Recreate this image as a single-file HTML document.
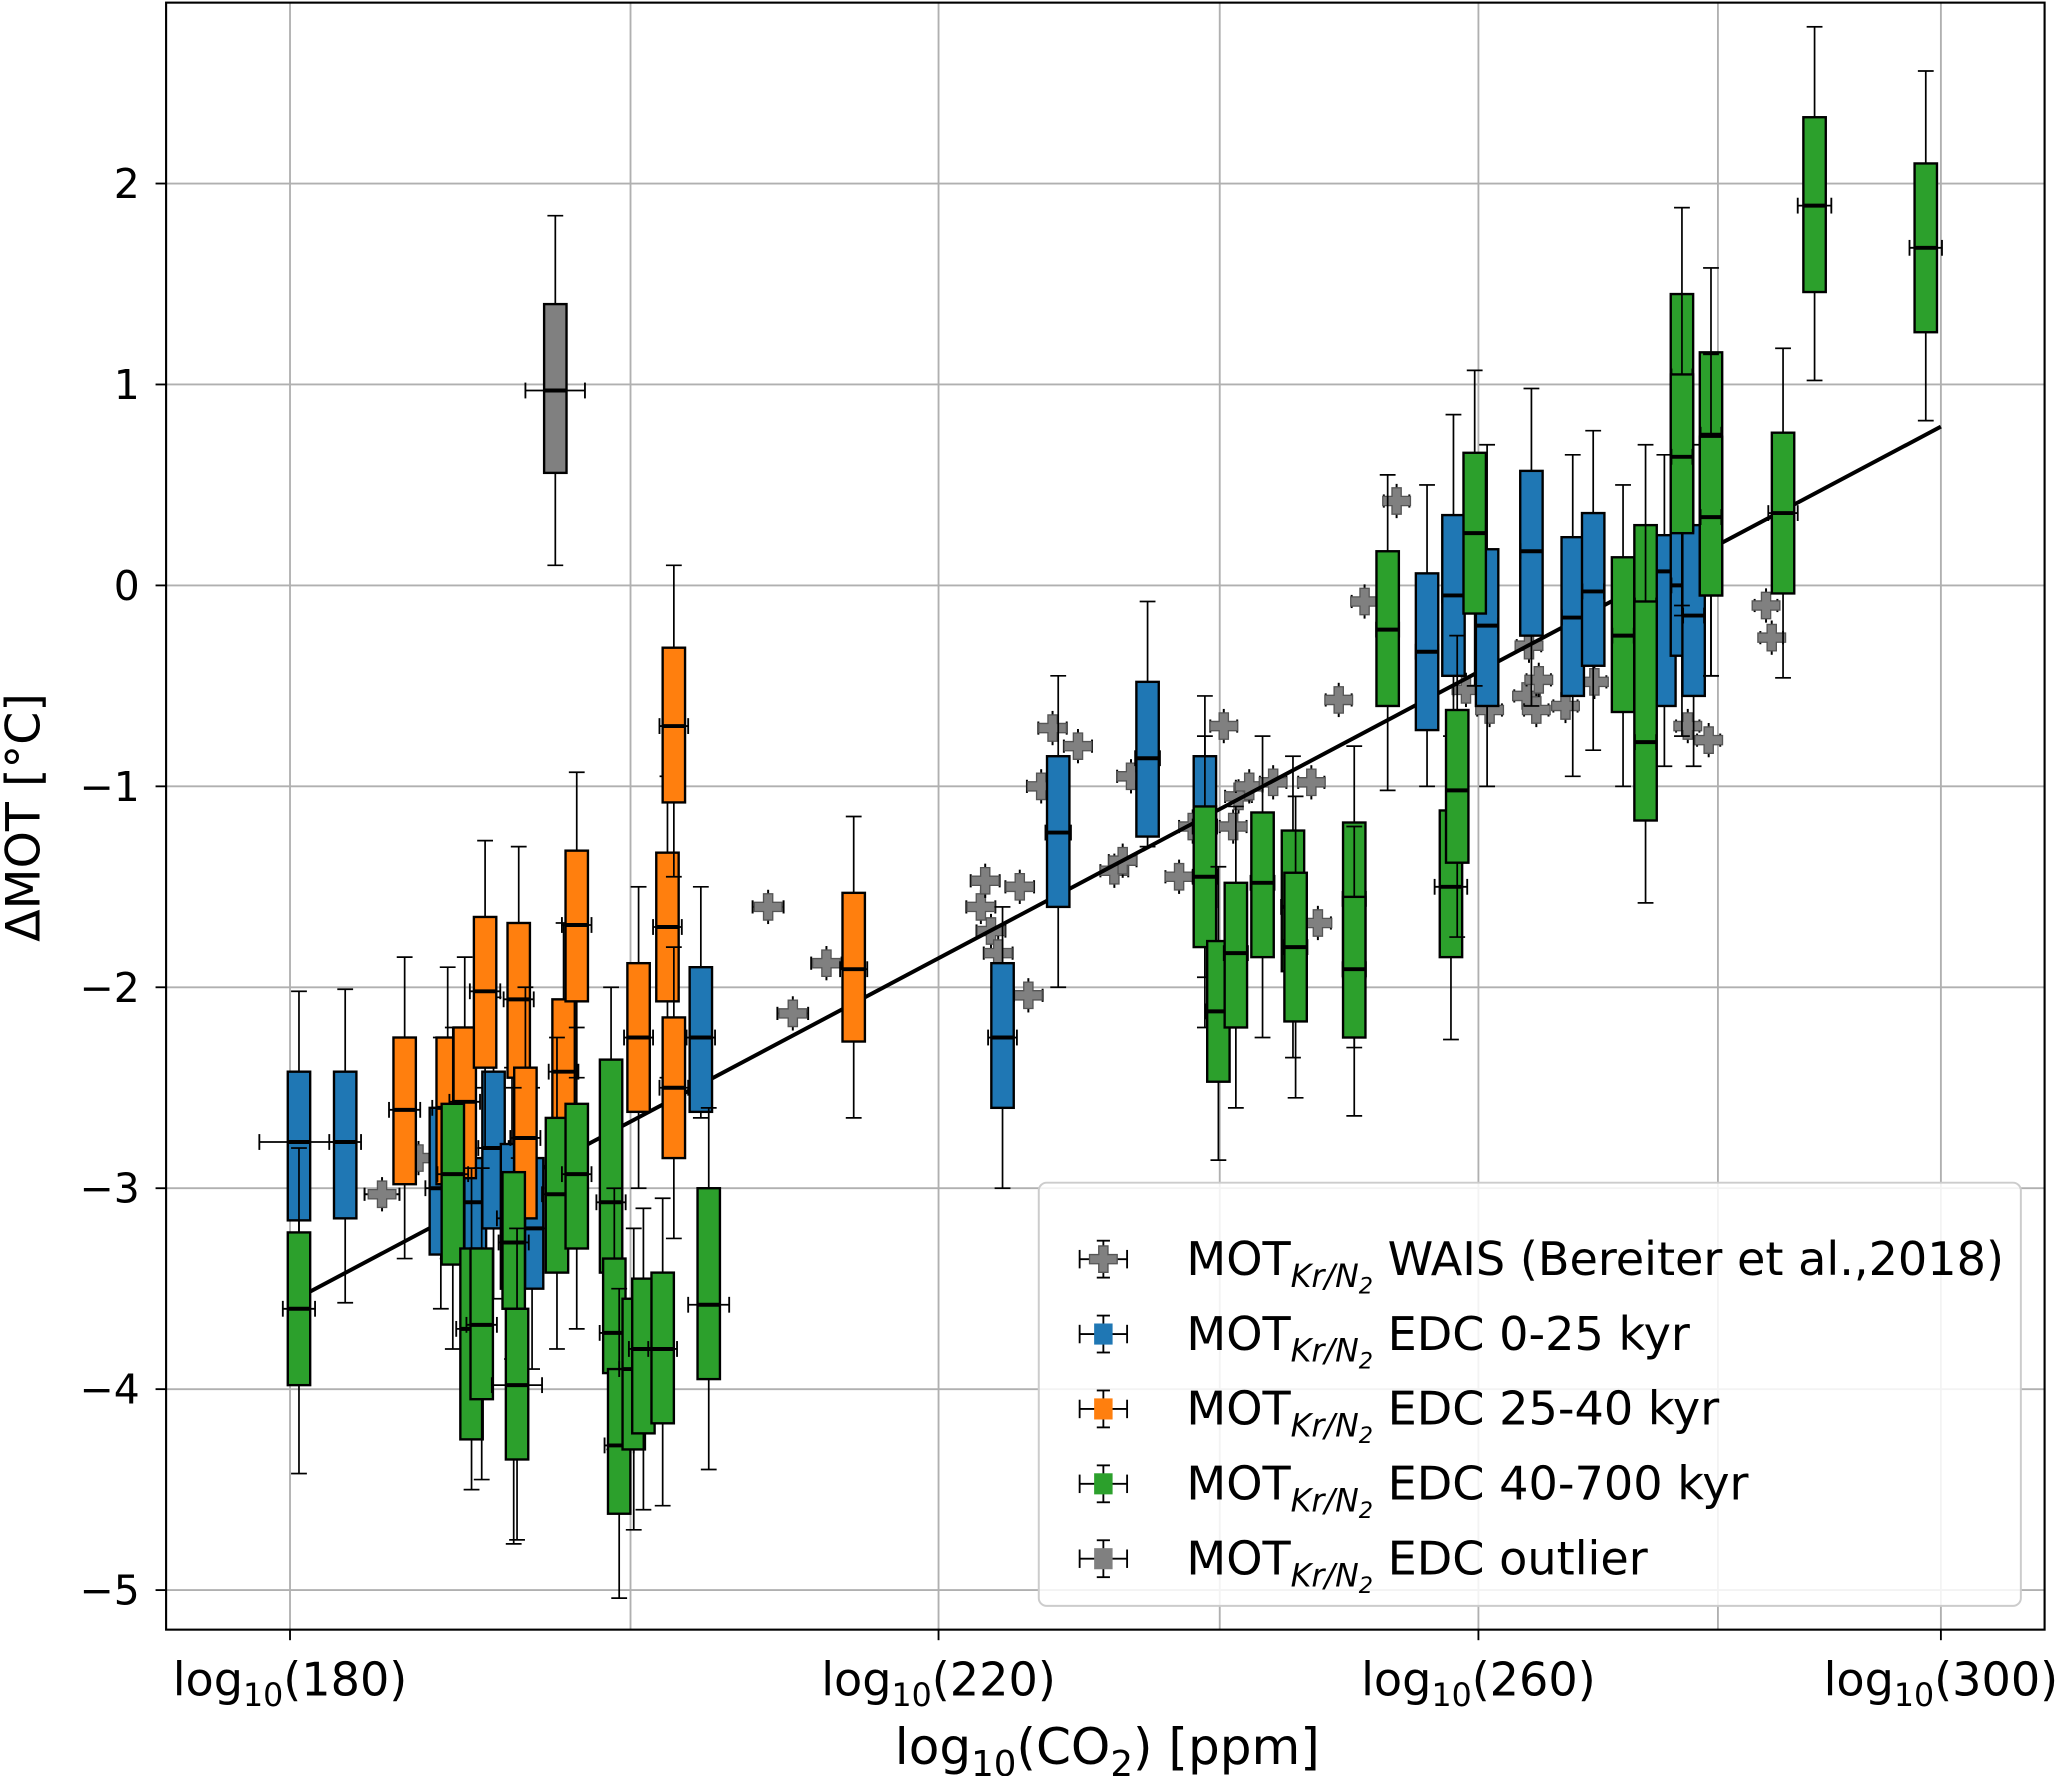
<!DOCTYPE html>
<html><head><meta charset="utf-8"><style>
html,body{margin:0;padding:0;background:#fff;}
svg{display:block;}
text{font-family:"DejaVu Sans","Liberation Sans",sans-serif;fill:#000;}
</style></head><body>
<svg id="chart" width="2067" height="1776" viewBox="0 0 1568 1347" preserveAspectRatio="none" xmlns="http://www.w3.org/2000/svg">
<rect x="0" y="0" width="1568" height="1347" fill="#fff"/>
<g id="grid"></g>
<g id="marks"></g>
<rect x="126" y="2" width="1425" height="1234" fill="none" stroke="#000" stroke-width="1.6"/>
<g id="axes"></g>
<text x="840" y="1338" font-size="38" text-anchor="middle">log<tspan font-size="27" dy="9">10</tspan><tspan dy="-9">(CO</tspan><tspan font-size="27" dy="9">2</tspan><tspan dy="-9">) [ppm]</tspan></text>
<text x="0" y="0" font-size="36" text-anchor="middle" transform="translate(30,620) rotate(-90)">ΔMOT [°C]</text>
<g id="legend"></g>
</svg>
<script>
// ---- data ----
const xTicks = [180, 220, 260, 300];
const xGrid = [180, 200, 220, 240, 260, 280, 300];
const yTicks = [-5, -4, -3, -2, -1, 0, 1, 2];

const waisCO2 = [185.2,187.3,208.7,210.3,212.5,222.9,223.2,223.6,224.1,225.6,226.2,227.9,227.1,229.7,232.3,232.9,233.5,237.0,238.0,240.3,241.0,241.4,242.2,244.0,246.9,247.4,249.0,251.0,253.5,259.0,260.9,263.9,264.1,264.7,264.9,267.1,269.5,275.4,279.2,277.4,284.2,284.7];
const waisMOT = [-3.03,-2.85,-1.6,-2.13,-1.88,-1.6,-1.47,-1.72,-1.83,-1.5,-2.04,-0.71,-1.0,-0.8,-1.42,-1.37,-0.95,-1.45,-1.2,-0.7,-1.2,-1.05,-1.0,-0.98,-0.98,-1.68,-0.57,-0.08,0.42,-0.52,-0.62,-0.55,-0.3,-0.62,-0.47,-0.6,-0.48,-0.3,-0.77,-0.7,-0.1,-0.26];

const blueCO2 = [180.5,183.1,188.6,190.6,191.7,192.8,194.0,204.4,224.4,228.3,234.7,238.9,255.9,258.0,260.7,264.3,267.7,269.4,275.4,276.9,277.9];
const blueQ3  = [-2.42,-2.42,-2.6,-2.85,-2.42,-2.78,-2.85,-1.9,-1.88,-0.85,-0.48,-0.85,0.06,0.35,0.18,0.57,0.24,0.36,0.25,0.4,0.3];
const blueMed = [-2.77,-2.77,-3.0,-3.07,-2.8,-3.15,-3.2,-2.25,-2.25,-1.23,-0.86,-1.2,-0.33,-0.05,-0.2,0.17,-0.16,-0.03,0.07,0.0,-0.15];
const blueQ1  = [-3.16,-3.15,-3.33,-3.35,-3.2,-3.5,-3.5,-2.62,-2.6,-1.6,-1.25,-1.6,-0.72,-0.45,-0.6,-0.25,-0.55,-0.4,-0.6,-0.35,-0.55];
const blueHi  = [-2.02,-2.01,-2.25,-2.5,-2.05,-2.4,-2.5,-1.5,-1.6,-0.45,-0.08,-0.55,0.5,0.85,0.7,0.98,0.65,0.77,0.65,0.8,0.7];
const blueLo  = [-3.55,-3.57,-3.6,-3.7,-3.55,-3.85,-3.9,-2.65,-3.0,-2.0,-1.3,-1.95,-1.0,-0.75,-1.0,-0.6,-0.95,-0.82,-0.9,-0.75,-0.9];
const blueXerr = [2.2,0.9,0.9,0.9,0.9,0.9,0.9,0.9,1.0,0.9,0.9,0.9,0.9,0.9,0.9,0.9,0.9,0.9,0.9,0.9,0.9];

const orangeCO2 = [186.5,189.0,190.0,191.2,193.2,193.6,195.9,196.7,200.5,202.3,202.7,202.7,214.3];
const orangeQ3  = [-2.25,-2.25,-2.2,-1.65,-1.68,-2.4,-2.06,-1.32,-1.88,-1.33,-0.31,-2.15,-1.53];
const orangeMed = [-2.61,-2.6,-2.57,-2.02,-2.06,-2.75,-2.42,-1.69,-2.25,-1.7,-0.7,-2.5,-1.91];
const orangeQ1  = [-2.98,-2.98,-2.95,-2.4,-2.45,-3.15,-2.8,-2.07,-2.62,-2.07,-1.08,-2.85,-2.27];
const orangeHi  = [-1.85,-1.9,-1.85,-1.27,-1.3,-2.0,-1.68,-0.93,-1.5,-0.95,0.1,-1.8,-1.15];
const orangeLo  = [-3.35,-3.35,-3.3,-2.8,-2.85,-3.5,-3.2,-2.45,-3.0,-2.45,-1.45,-3.25,-2.65];
const orangeXerr = [0.9,0.9,0.9,0.9,0.9,0.9,0.9,0.9,0.9,0.9,0.9,0.9,0.9];

const greenCO2 = [180.5,189.3,190.4,191.0,192.9,193.1,195.5,196.7,198.8,199.0,199.3,200.2,200.8,202.0,204.9,238.9,239.9,241.2,243.2,245.5,245.7,250.2,250.2,252.8,257.8,258.3,259.7,271.9,273.8,273.8,276.9,276.9,279.4,279.4,285.7,288.5,298.6];
const greenQ3  = [-3.22,-2.58,-3.3,-3.3,-2.92,-3.6,-2.65,-2.58,-2.36,-3.35,-3.9,-3.55,-3.45,-3.42,-3.0,-1.1,-1.77,-1.48,-1.13,-1.22,-1.43,-1.18,-1.55,0.17,-1.12,-0.62,0.66,0.14,0.3,-0.08,1.45,1.05,1.16,0.74,0.76,2.33,2.1];
const greenMed = [-3.6,-2.93,-3.7,-3.68,-3.27,-3.98,-3.03,-2.93,-3.07,-3.72,-4.28,-3.9,-3.8,-3.8,-3.58,-1.45,-2.12,-1.83,-1.48,-1.6,-1.8,-1.56,-1.91,-0.22,-1.5,-1.02,0.26,-0.25,-0.1,-0.78,1.04,0.64,0.75,0.34,0.36,1.89,1.68];
const greenQ1  = [-3.98,-3.38,-4.25,-4.05,-3.6,-4.35,-3.42,-3.3,-3.42,-3.92,-4.62,-4.3,-4.22,-4.17,-3.95,-1.8,-2.47,-2.2,-1.85,-1.92,-2.17,-1.95,-2.25,-0.6,-1.85,-1.38,-0.14,-0.63,-0.57,-1.17,0.27,0.26,-0.05,-0.05,-0.04,1.46,1.26];
const greenHi  = [-2.8,-2.2,-2.9,-2.9,-2.5,-3.2,-2.25,-2.2,-2.0,-3.0,-3.5,-3.2,-3.1,-3.05,-2.6,-0.75,-1.4,-1.1,-0.75,-0.85,-1.05,-0.8,-1.2,0.55,-0.75,-0.25,1.07,0.5,0.7,0.3,1.88,1.45,1.58,1.15,1.18,2.78,2.56];
const greenLo  = [-4.42,-3.8,-4.5,-4.45,-4.77,-4.75,-3.8,-3.7,-3.8,-4.3,-5.04,-4.7,-4.6,-4.58,-4.4,-2.2,-2.86,-2.6,-2.25,-2.35,-2.55,-2.3,-2.64,-1.02,-2.26,-1.75,-0.5,-1.0,-0.95,-1.58,-0.1,-0.15,-0.45,-0.45,-0.46,1.02,0.82];
const greenXerr = [0.9,0.9,0.9,0.9,0.9,1.5,0.9,0.9,0.9,0.9,0.9,0.9,0.9,0.9,1.3,0.9,0.9,0.9,0.9,0.9,0.9,0.9,0.9,0.9,1.3,0.9,0.9,0.9,0.9,0.9,0.9,0.9,0.9,0.9,1.3,1.5,1.5];

const grayCO2 = [195.4];
const grayQ3 = [1.4];
const grayMed = [0.97];
const grayQ1 = [0.56];
const grayHi = [1.84];
const grayLo = [0.1];
const grayXerr = [1.8];

const fitCO2 = [181.0, 300.0];
const fitMOT = [-3.52, 0.79];

// ---- scales ----
const NS = 'http://www.w3.org/2000/svg';
function xS(c){ return 220 + 5645*(Math.log10(c) - Math.log10(180)); }
function yS(v){ return 444 - 152.4*v; }
function el(tag, attrs, parent){
  const e = document.createElementNS(NS, tag);
  for (const k in attrs) e.setAttribute(k, attrs[k]);
  parent.appendChild(e); return e;
}
const grid = document.getElementById('grid');
const axes = document.getElementById('axes');
const marks = document.getElementById('marks');

xGrid.forEach(c => {
  const l = el('line', {x1:xS(c), x2:xS(c), y1:2, y2:1236, stroke:'#b0b0b0', 'stroke-width':1.4}, grid);
  
  
});
yTicks.forEach(v => {
  const l = el('line', {x1:126, x2:1551, y1:yS(v), y2:yS(v), stroke:'#b0b0b0', 'stroke-width':1.4}, grid);
  
  
  const t = el('line', {x1:118, x2:126, y1:yS(v), y2:yS(v), stroke:'#000', 'stroke-width':1.4}, axes);
  
  
  const tx = el('text', {x:106, y:yS(v)+11, 'font-size':31, 'text-anchor':'end'}, axes);
  tx.textContent = (v < 0 ? '\u2212' + Math.abs(v) : String(v));
  
  
});
xTicks.forEach(c => {
  const t = el('line', {x1:xS(c), x2:xS(c), y1:1236, y2:1244, stroke:'#000', 'stroke-width':1.4}, axes);
  
  
  const tx = el('text', {x:xS(c), y:1286, 'font-size':35, 'text-anchor':'middle'}, axes);
  tx.innerHTML = 'log<tspan font-size="24" dy="8">10</tspan><tspan dy="-8">(' + c + ')</tspan>';
  
  
});

// WAIS plus markers
waisCO2.forEach((c, i) => {
  const g = el('g', {}, marks);
  
  
  const x = xS(c), y = yS(waisMOT[i]);
  const x1 = xS(c - 1), x2 = xS(c + 1);
  el('line', {x1:x1, x2:x2, y1:y, y2:y, stroke:'#000', 'stroke-width':1.5}, g);
  el('line', {x1:x1, x2:x1, y1:y-5, y2:y+5, stroke:'#000', 'stroke-width':1.5}, g);
  el('line', {x1:x2, x2:x2, y1:y-5, y2:y+5, stroke:'#000', 'stroke-width':1.5}, g);
  el('line', {x1:x, x2:x, y1:y-13, y2:y+13, stroke:'#000', 'stroke-width':1.5}, g);
  el('path', {d:`M${x-3.5},${y-10}h7v6.5h7v7h-7v6.5h-7v-6.5h-7v-7h7z`, fill:'#808080', stroke:'#555', 'stroke-width':1}, g);
});

// fit line
const fit = el('line', {x1:xS(fitCO2[0]), y1:yS(fitMOT[0]), x2:xS(fitCO2[1]), y2:yS(fitMOT[1]), stroke:'#000', 'stroke-width':3}, marks);



function drawBoxes(co2, q3, med, q1, hi, lo, xerr, color, name){
  co2.forEach((c, i) => {
    const g = el('g', {}, marks);
    
    
    const x = xS(c), w = 17;
    el('line', {x1:x, x2:x, y1:yS(hi[i]), y2:yS(lo[i]), stroke:'#000', 'stroke-width':1.3}, g);
    el('line', {x1:x-6, x2:x+6, y1:yS(hi[i]), y2:yS(hi[i]), stroke:'#000', 'stroke-width':1.3}, g);
    el('line', {x1:x-6, x2:x+6, y1:yS(lo[i]), y2:yS(lo[i]), stroke:'#000', 'stroke-width':1.3}, g);
    el('rect', {x:x-w/2, y:yS(q3[i]), width:w, height:yS(q1[i])-yS(q3[i]), fill:color, stroke:'#000', 'stroke-width':1.8}, g);
    el('line', {x1:x-w/2, x2:x+w/2, y1:yS(med[i]), y2:yS(med[i]), stroke:'#000', 'stroke-width':3}, g);
    const xa = xS(c - xerr[i]), xb = xS(c + xerr[i]), ym = yS(med[i]);
    el('line', {x1:xa, x2:xb, y1:ym, y2:ym, stroke:'#000', 'stroke-width':1.4}, g);
    el('line', {x1:xa, x2:xa, y1:ym-6, y2:ym+6, stroke:'#000', 'stroke-width':1.4}, g);
    el('line', {x1:xb, x2:xb, y1:ym-6, y2:ym+6, stroke:'#000', 'stroke-width':1.4}, g);
  });
}
drawBoxes(blueCO2, blueQ3, blueMed, blueQ1, blueHi, blueLo, blueXerr, '#1f77b4', 'box-edc-0-25');
drawBoxes(orangeCO2, orangeQ3, orangeMed, orangeQ1, orangeHi, orangeLo, orangeXerr, '#ff7f0e', 'box-edc-25-40');
drawBoxes(greenCO2, greenQ3, greenMed, greenQ1, greenHi, greenLo, greenXerr, '#2ca02c', 'box-edc-40-700');
drawBoxes(grayCO2, grayQ3, grayMed, grayQ1, grayHi, grayLo, grayXerr, '#808080', 'box-edc-outlier');

// legend
const leg = document.getElementById('legend');
const lb = el('rect', {x:788, y:897, width:745, height:321, rx:6, fill:'#fff', 'fill-opacity':0.85, stroke:'#ccc', 'stroke-width':1.5}, leg);


const legLabels = [' WAIS (Bereiter et al.,2018)', ' EDC 0-25 kyr', ' EDC 25-40 kyr', ' EDC 40-700 kyr', ' EDC outlier'];
const legColors = ['#808080', '#1f77b4', '#ff7f0e', '#2ca02c', '#808080'];
legLabels.forEach((lab, i) => {
  const y = 955 + i*56.8, x = 837;
  const g = el('g', {}, leg);
  
  
  el('line', {x1:x, x2:x, y1:y-14, y2:y+14, stroke:'#000', 'stroke-width':1.4}, g);
  el('line', {x1:x-5, x2:x+5, y1:y-14, y2:y-14, stroke:'#000', 'stroke-width':1.4}, g);
  el('line', {x1:x-5, x2:x+5, y1:y+14, y2:y+14, stroke:'#000', 'stroke-width':1.4}, g);
  el('line', {x1:x-18, x2:x+18, y1:y, y2:y, stroke:'#000', 'stroke-width':1.4}, g);
  el('line', {x1:x-18, x2:x-18, y1:y-7, y2:y+7, stroke:'#000', 'stroke-width':1.4}, g);
  el('line', {x1:x+18, x2:x+18, y1:y-7, y2:y+7, stroke:'#000', 'stroke-width':1.4}, g);
  if (i === 0) {
    el('path', {d:`M${x-3.5},${y-10}h7v6.5h7v7h-7v6.5h-7v-6.5h-7v-7h7z`, fill:legColors[i], stroke:'#555', 'stroke-width':1}, g);
  } else {
    el('rect', {x:x-7, y:y-8, width:14, height:16, fill:legColors[i]}, g);
  }
  const t = el('text', {x:900, y:y+12, 'font-size':35}, g);
  t.innerHTML = 'MOT<tspan font-size="24" font-style="italic" dy="9">Kr/N</tspan><tspan font-size="17" font-style="italic" dy="5">2</tspan><tspan dy="-14">' + lab + '</tspan>';
});
</script>
</body></html>
